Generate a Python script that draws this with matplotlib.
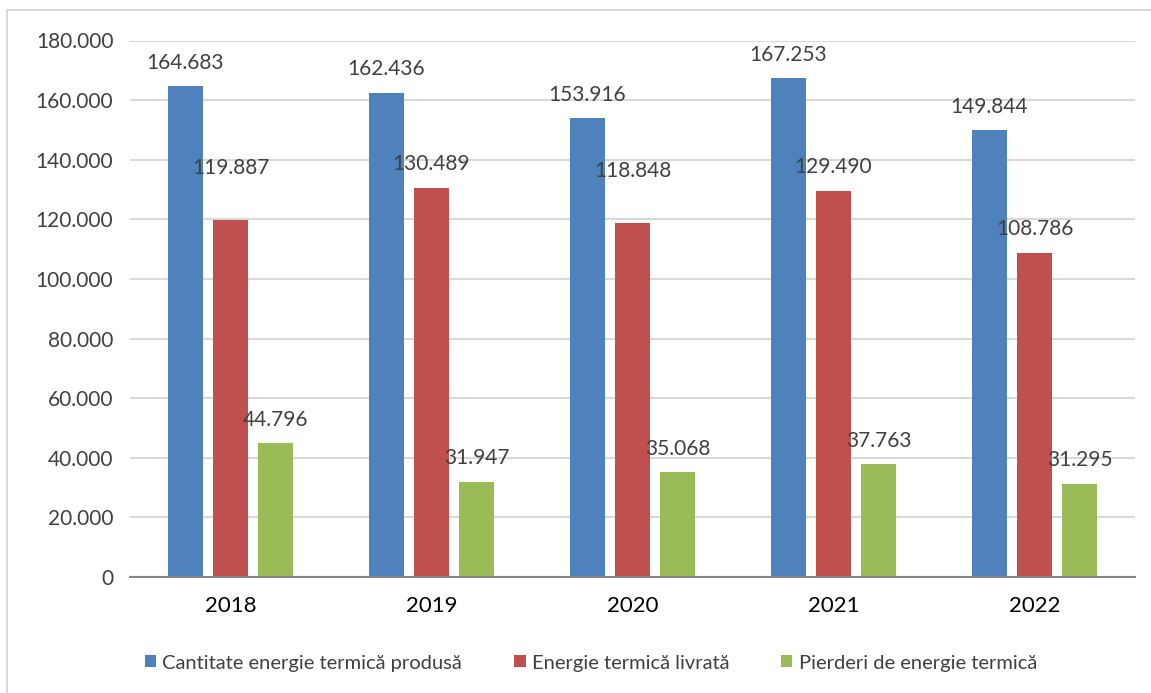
import matplotlib.pyplot as plt
from matplotlib.patches import Rectangle
import numpy as np

years = ["2018", "2019", "2020", "2021", "2022"]
produsa = [164.683, 162.436, 153.916, 167.253, 149.844]
livrata = [119.887, 130.489, 118.848, 129.490, 108.786]
pierderi = [44.796, 31.947, 35.068, 37.763, 31.295]
series_names = ["Cantitate energie termică produsă",
                "Energie termică livrată",
                "Pierderi de energie termică"]
yticks = [0, 20, 40, 60, 80, 100, 120, 140, 160, 180]

colors = ["#4F81BD", "#C0504D", "#9BBB59"]

plt.rcParams['font.family'] = ['Lato', 'DejaVu Sans']

fig = plt.figure(figsize=(11.51, 6.93), dpi=100)
# light frame around the chart (as in the Excel export)
fig.patches.append(Rectangle((7 / 1151, -0.1), 1.2, 1.1 - 10 / 693,
                             transform=fig.transFigure, fill=False,
                             edgecolor="#D9D9D9", linewidth=1.5))

ax = fig.add_axes([130 / 1151, 1 - 577 / 693, 1005 / 1151, 536.5 / 693])

x = np.arange(len(years))
width = 0.174
step = 0.224

# extra lift for a few labels that sit higher in the original
lift = {(1, 0): 20, (1, 2): 20}

for i, (vals, name) in enumerate(zip([produsa, livrata, pierderi], series_names)):
    xs = x + (i - 1) * step
    ax.bar(xs, vals, width, color=colors[i], label=name, zorder=2)
    for j, (xi, v) in enumerate(zip(xs, vals)):
        ax.annotate(f"{v:.3f}", (xi, v), xytext=(0, 17 + lift.get((i, j), 0)),
                    textcoords="offset points", ha="center", va="center",
                    fontsize=15, color="#404040", zorder=3)

ax.set_xlim(-0.5, len(years) - 0.5)
ax.set_ylim(0, 180)
ax.set_yticks(yticks)
ax.set_yticklabels(["0"] + [f"{t}.000" for t in yticks[1:]])
ax.set_xticks(x)
ax.set_xticklabels(years)
ax.grid(axis="y", color="#D9D9D9", linewidth=1.5, zorder=0)
ax.set_axisbelow(True)
for s in ["top", "right", "left"]:
    ax.spines[s].set_visible(False)
ax.spines["bottom"].set_color("#868686")
ax.spines["bottom"].set_linewidth(1.5)
ax.tick_params(axis="y", length=0, pad=12, labelsize=15, labelcolor="#404040")
ax.tick_params(axis="x", length=0, pad=14, labelsize=16, labelcolor="black")

ax.legend(loc="center", bbox_to_anchor=(591 / 1151, 1 - 663 / 693),
          bbox_transform=fig.transFigure, ncol=3, frameon=False,
          fontsize=14.5, labelcolor="#404040", handlelength=0.55, handleheight=0.55,
          handletextpad=0.3, columnspacing=2.6)

fig.savefig("out.png", dpi=100)
